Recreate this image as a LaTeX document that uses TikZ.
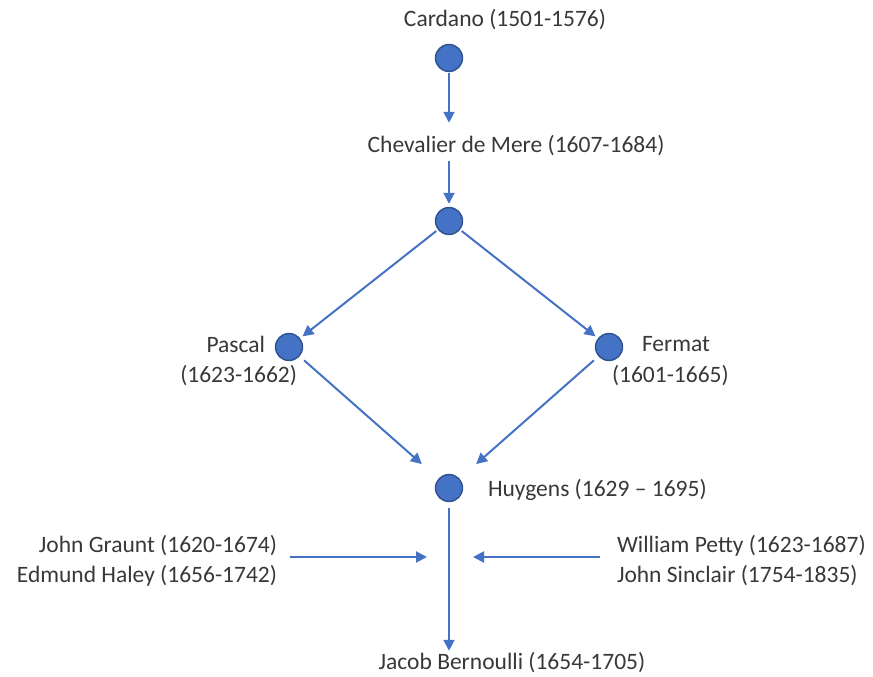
\documentclass[tikz,border=0pt]{standalone}
\usepackage{fontspec}
\setmainfont{Carlito}
\usetikzlibrary{arrows.meta}

\begin{document}
\begin{tikzpicture}[x=1pt,y=-1pt,>={Triangle[length=11pt,width=11pt]},
                    line width=2pt,
                    dot/.style={circle,fill=dotblue,draw=dotedge,line width=1.4pt,
                                minimum size=27pt,inner sep=0pt},
                    who/.style={inner sep=0pt,font=\fontsize{23.5}{28}\selectfont,text=black!78},
                    link/.style={->,draw=lineblue}]
  \definecolor{dotblue}{HTML}{4472C4}
  \definecolor{dotedge}{HTML}{2F528F}
  \definecolor{lineblue}{HTML}{4472C4}
  \useasboundingbox (0,0) rectangle (873,677);

  \node[who]           (card)  at (505,20)  {Cardano (1501-1576)};
  \node[dot]           (c1)    at (449,58)  {};
  \node[who]           (chev)  at (516,146) {Chevalier de Mere (1607-1684)};
  \node[dot]           (c2)    at (449,221) {};
  \node[dot]           (pas)   at (289,347) {};
  \node[who,anchor=east] (pasn) at (266,344) {Pascal};
  \node[who,anchor=east] (pasy) at (298,376) {(1623-1662)};
  \node[dot]           (fer)   at (609,347) {};
  \node[who,anchor=west] (fern) at (641,344) {Fermat};
  \node[who,anchor=west] (fery) at (611,376) {(1601-1665)};
  \node[dot]           (huy)   at (449,488) {};
  \node[who,anchor=west] (huyn) at (487,490) {Huygens (1629 -- 1695)};
  \coordinate          (mid)   at (449,557);
  \node[who,anchor=east] (gra)  at (278,546) {John Graunt (1620-1674)};
  \node[who,anchor=east] (hal)  at (278,576) {Edmund Haley (1656-1742)};
  \node[who,anchor=west] (pet)  at (616,546) {William Petty (1623-1687)};
  \node[who,anchor=west] (sin)  at (616,576) {John Sinclair (1754-1835)};
  \node[who]           (jac)   at (512,663) {Jacob Bernoulli (1654-1705)};

  \path (c1)   edge [link,shorten <=1pt,shorten >=12pt] (c1 |- chev.north)
        (c1 |- chev.south) edge [link,shorten <=4pt,shorten >=3pt] (c2)
        (c2)   edge [link,shorten <=2pt,shorten >=3pt] (pas)
               edge [link,shorten <=2pt,shorten >=3pt] (fer)
        (pas)  edge [link,shorten <=6pt,shorten >=22pt] (huy)
        (fer)  edge [link,shorten <=6pt,shorten >=22pt] (huy)
        (huy)  edge [link,shorten <=6pt,shorten >=1pt] (huy |- jac.north)
        (gra.east |- mid) ++(12,0) coordinate (gs) edge [link,shorten >=22pt] (mid)
        (pet.west |- mid) ++(-16,0) coordinate (ps) edge [link,shorten >=24pt] (mid);
\end{tikzpicture}
\end{document}
